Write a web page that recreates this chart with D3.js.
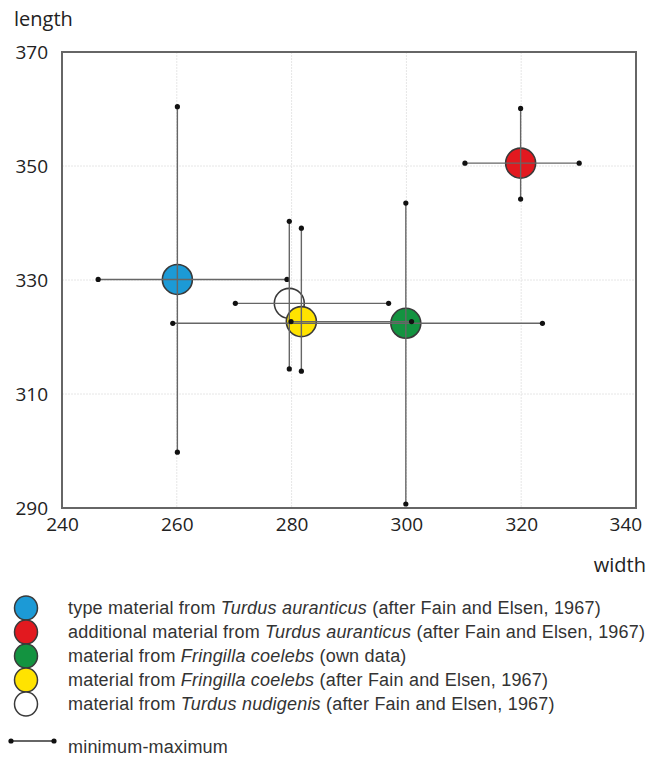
<!DOCTYPE html>
<html>
<head>
<meta charset="utf-8">
<script src="https://cdn.jsdelivr.net/npm/d3@7"></script>
<style>
  body { margin: 0; background: #fff; }
  svg { display: block; }
</style>
</head>
<body>
<div id="chart"></div>
<script>
// groups in drawing order (yellow over white)
var groups = ["blue", "red", "green", "white", "yellow"];
var groupColors = ["#1c9ad6", "#e2191f", "#139340", "#ffffff", "#ffe300"];
var meanWidth = [260.1, 319.9, 299.9, 279.6, 281.7];
var meanLength = [330.1, 350.5, 322.4, 325.9, 322.7];
var minWidth = [246.3, 310.2, 259.3, 270.2, 279.9];
var maxWidth = [279.2, 330.1, 323.7, 296.9, 300.9];
var minLength = [299.8, 344.2, 290.7, 314.4, 314.0];
var maxLength = [360.4, 360.1, 343.5, 340.3, 339.1];

var xTicks = [240, 260, 280, 300, 320, 340];
var yTicks = [290, 310, 330, 350, 370];

var legendColors = ["#1c9ad6", "#e2191f", "#139340", "#ffe300", "#ffffff"];
var legendText = [
  ["type material from ", "Turdus auranticus", " (after Fain and Elsen, 1967)"],
  ["additional material from ", "Turdus auranticus", " (after Fain and Elsen, 1967)"],
  ["material from ", "Fringilla coelebs", " (own data)"],
  ["material from ", "Fringilla coelebs", " (after Fain and Elsen, 1967)"],
  ["material from ", "Turdus nudigenis", " (after Fain and Elsen, 1967)"]
];

var svgWidth = 647,
    svgHeight = 760;

var margin = {top: 52, right: 11, bottom: 252, left: 62};
var chartWidth = svgWidth - margin.left - margin.right;
var chartHeight = svgHeight - margin.top - margin.bottom;

var svg = d3.select("#chart")
    .append("svg")
    .attr("width", svgWidth)
    .attr("height", svgHeight)
    .style("font-family", "'Open Sans', sans-serif");

var chartGroup = svg.append("g")
    .attr("transform", `translate(${margin.left}, ${margin.top})`);

var xScale = d3.scaleLinear().domain([240, 340]).range([0, chartWidth]);
var yScale = d3.scaleLinear().domain([290, 370]).range([chartHeight, 0]);

// grid
chartGroup.selectAll(".xgrid")
    .data(xTicks.slice(1, -1))
    .enter().append("line")
    .attr("x1", d => xScale(d)).attr("x2", d => xScale(d))
    .attr("y1", 0).attr("y2", chartHeight)
    .attr("stroke", "#e6e6e6").attr("stroke-width", 1)
    .attr("stroke-dasharray", "2,1");

chartGroup.selectAll(".ygrid")
    .data(yTicks.slice(1, -1))
    .enter().append("line")
    .attr("x1", 0).attr("x2", chartWidth)
    .attr("y1", d => yScale(d)).attr("y2", d => yScale(d))
    .attr("stroke", "#e6e6e6").attr("stroke-width", 1)
    .attr("stroke-dasharray", "2,1");

// axes (labels only, box drawn separately)
var bottomAxis = d3.axisBottom(xScale).tickValues(xTicks).tickSize(0).tickPadding(10);
var leftAxis = d3.axisLeft(yScale).tickValues(yTicks).tickSize(0).tickPadding(14);

var xAxis = chartGroup.append("g")
    .attr("transform", "translate(0, " + chartHeight + ")")
    .call(bottomAxis);
var yAxis = chartGroup.append("g").call(leftAxis);

[xAxis, yAxis].forEach(function(a) {
  a.select(".domain").remove();
  a.selectAll("text")
    .style("font-family", "'Open Sans', sans-serif")
    .style("font-size", "19px")
    .attr("fill", "#222");
});
// last x label sits against the right edge
xAxis.selectAll("text")
    .filter(d => d === 340)
    .attr("text-anchor", "end")
    .attr("dx", "0.3em");

chartGroup.append("rect")
    .attr("x", 0).attr("y", 0)
    .attr("width", chartWidth).attr("height", chartHeight)
    .attr("fill", "none")
    .attr("stroke", "#666")
    .attr("stroke-width", 2);

svg.append("text")
    .attr("x", 14).attr("y", 26)
    .style("font-size", "20px")
    .attr("fill", "#222")
    .text("length");

svg.append("text")
    .attr("x", 646).attr("y", 572)
    .attr("text-anchor", "end")
    .style("font-size", "20px")
    .attr("fill", "#222")
    .text("width");

// circles
chartGroup.selectAll(".mean")
    .data(groups)
    .enter().append("circle")
    .attr("cx", (d, i) => xScale(meanWidth[i]))
    .attr("cy", (d, i) => yScale(meanLength[i]))
    .attr("r", 15)
    .attr("fill", (d, i) => groupColors[i])
    .attr("stroke", "#3a3a3a")
    .attr("stroke-width", 1.6);

// min-max lines
groups.forEach(function(g, i) {
  chartGroup.append("line")
    .attr("x1", xScale(minWidth[i])).attr("x2", xScale(maxWidth[i]))
    .attr("y1", yScale(meanLength[i])).attr("y2", yScale(meanLength[i]))
    .attr("stroke", "#666").attr("stroke-width", 1.4);
  chartGroup.append("line")
    .attr("x1", xScale(meanWidth[i])).attr("x2", xScale(meanWidth[i]))
    .attr("y1", yScale(minLength[i])).attr("y2", yScale(maxLength[i]))
    .attr("stroke", "#666").attr("stroke-width", 1.4);
  var ends = [
    [minWidth[i], meanLength[i]], [maxWidth[i], meanLength[i]],
    [meanWidth[i], minLength[i]], [meanWidth[i], maxLength[i]]
  ];
  chartGroup.selectAll(".end" + i)
    .data(ends)
    .enter().append("circle")
    .attr("cx", d => xScale(d[0]))
    .attr("cy", d => yScale(d[1]))
    .attr("r", 2.6)
    .attr("fill", "#111");
});

// legend
var legend = svg.append("g").attr("transform", "translate(0, 608)");

var rows = legend.selectAll(".row")
    .data(legendText)
    .enter().append("g")
    .attr("transform", (d, i) => `translate(0, ${i * 24})`);

rows.append("ellipse")
    .attr("cx", 26).attr("cy", 0)
    .attr("rx", 11.5).attr("ry", 12)
    .attr("fill", (d, i) => legendColors[i])
    .attr("stroke", "#3a3a3a")
    .attr("stroke-width", 1.5);

var txt = rows.append("text")
    .attr("x", 68).attr("y", 6)
    .style("font-family", "'Liberation Sans', Arial, sans-serif")
    .style("font-size", "18px")
    .style("letter-spacing", "0.2px")
    .attr("fill", "#333");
txt.append("tspan").text(d => d[0]);
txt.append("tspan").style("font-style", "italic").text(d => d[1]);
txt.append("tspan").text(d => d[2]);

var mm = legend.append("g").attr("transform", "translate(0, 133)");
mm.append("line")
    .attr("x1", 11).attr("x2", 54).attr("y1", 0).attr("y2", 0)
    .attr("stroke", "#333").attr("stroke-width", 1.4);
mm.selectAll("circle")
    .data([11, 54])
    .enter().append("circle")
    .attr("cx", d => d).attr("cy", 0).attr("r", 2.6).attr("fill", "#111");
mm.append("text")
    .attr("x", 68).attr("y", 12)
    .style("font-family", "'Liberation Sans', Arial, sans-serif")
    .style("font-size", "18px")
    .style("letter-spacing", "0.2px")
    .attr("fill", "#333")
    .text("minimum-maximum");
</script>
</body>
</html>
